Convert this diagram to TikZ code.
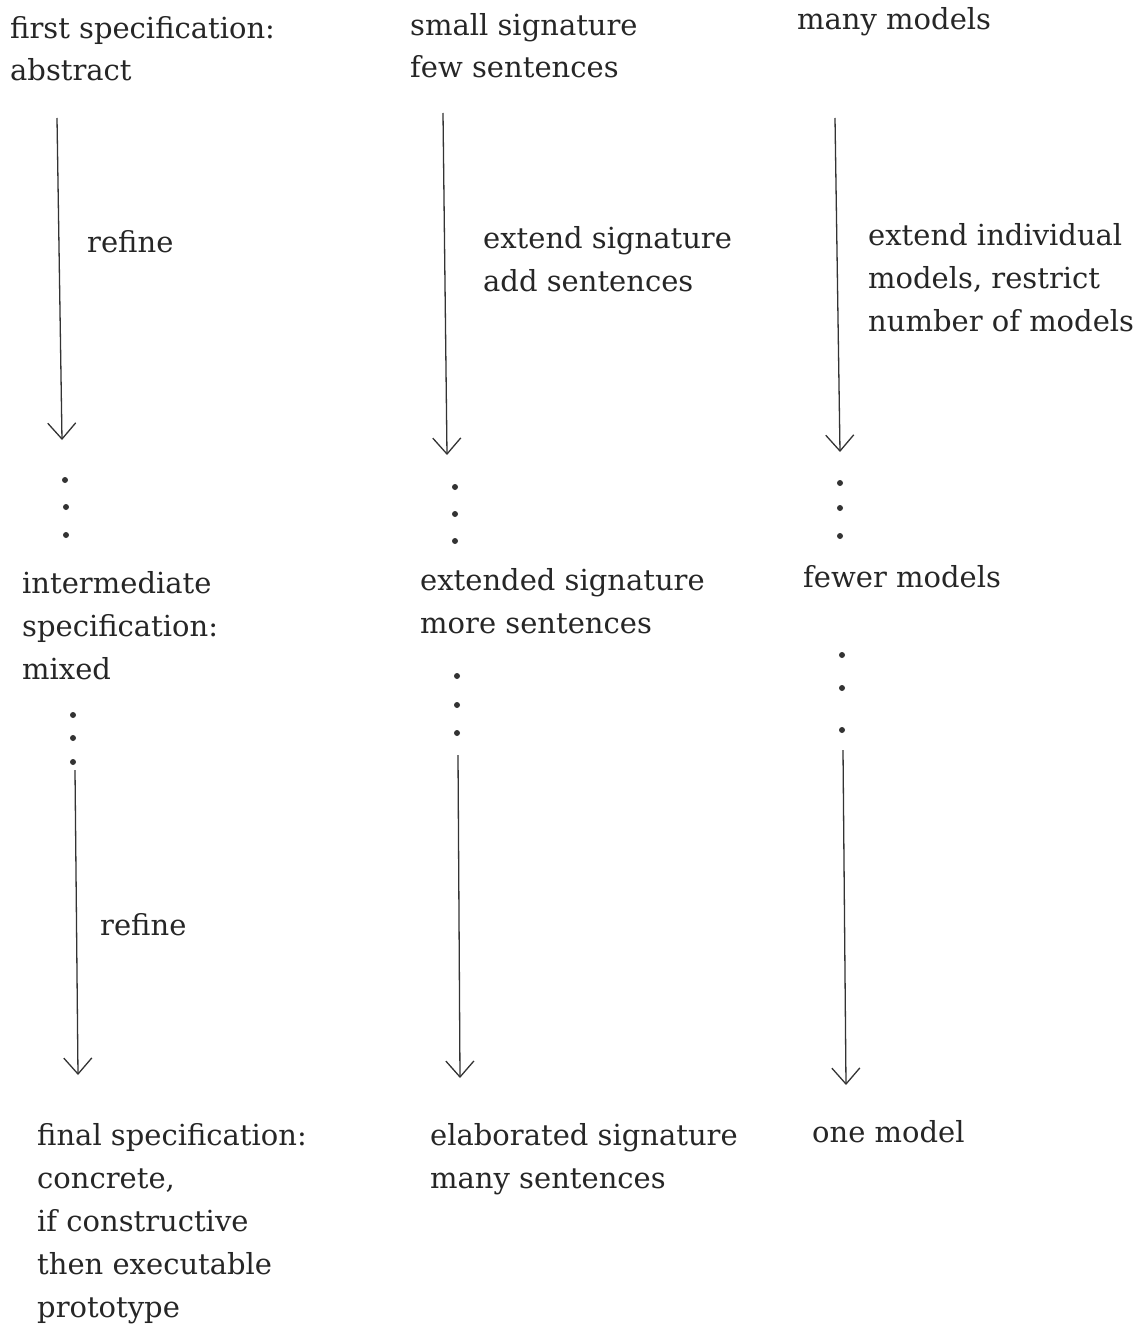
\documentclass[tikz,border=0pt]{standalone}
\usepackage{fontspec}
\setmainfont{DejaVu Serif}
\usetikzlibrary{arrows.meta}
\begin{document}
\begin{tikzpicture}[x=1pt,y=-1pt,
  lbl/.style={anchor=base west,inner sep=0pt,align=left,font=\fontsize{29}{42.8}\selectfont,text=black!85},
  arr/.style={line width=1.3pt,draw=black!80,-{Straight Barb[length=16pt,width=28pt,line width=1.3pt]}},
  dot/.style={circle,fill=black!80,inner sep=0pt,minimum size=6pt}]
\useasboundingbox (0,0) rectangle (1142,1327);
% column 1 (node positions are the baseline of the last line)
\node[lbl] (c1a) at (10,81) {first specification:\\abstract};
\coordinate (a1s) at (57,118); \coordinate (a1e) at (62,440);
\draw[arr] (a1s) -- (a1e);
\node[lbl] (r1) at (87,252) {refine};
\node[dot] (d11) at (65,480) {}; \node[dot] (d12) at (66,507) {}; \node[dot] (d13) at (66,535) {};
\node[lbl] (c1b) at (22,679) {intermediate\\specification:\\mixed};
\node[dot] (d14) at (73,715) {}; \node[dot] (d15) at (73,738) {}; \node[dot] (d16) at (73,762) {};
\coordinate (a2s) at (75,770); \coordinate (a2e) at (78,1075);
\draw[arr] (a2s) -- (a2e);
\node[lbl] (r2) at (100,935) {refine};
\node[lbl] (c1c) at (37,1317) {final specification:\\concrete,\\if constructive\\then executable\\prototype};
% column 2
\node[lbl] (c2a) at (410,78) {small signature\\few sentences};
\coordinate (b1s) at (443,113); \coordinate (b1e) at (447,455);
\draw[arr] (b1s) -- (b1e);
\node[lbl] (e2) at (483,291) {extend signature\\add sentences};
\node[dot] (d21) at (455,487) {}; \node[dot] (d22) at (455,514) {}; \node[dot] (d23) at (455,541) {};
\node[lbl] (c2b) at (420,633) {extended signature\\more sentences};
\node[dot] (d24) at (457,676) {}; \node[dot] (d25) at (457,705) {}; \node[dot] (d26) at (457,733) {};
\coordinate (b2s) at (458,755); \coordinate (b2e) at (460,1078);
\draw[arr] (b2s) -- (b2e);
\node[lbl] (c2c) at (430,1188) {elaborated signature\\many sentences};
% column 3
\node[lbl] (c3a) at (797,30) {many models};
\coordinate (m1s) at (835,118); \coordinate (m1e) at (840,452);
\draw[arr] (m1s) -- (m1e);
\node[lbl] (e3) at (868,331) {extend individual\\models, restrict\\number of models};
\node[dot] (d31) at (840,483) {}; \node[dot] (d32) at (840,508) {}; \node[dot] (d33) at (840,536) {};
\node[lbl] (c3b) at (803,587) {fewer models};
\node[dot] (d34) at (842,655) {}; \node[dot] (d35) at (842,688) {}; \node[dot] (d36) at (842,730) {};
\coordinate (m2s) at (843,750); \coordinate (m2e) at (846,1085);
\draw[arr] (m2s) -- (m2e);
\node[lbl] (c3c) at (812,1142) {one model};
\end{tikzpicture}
\end{document}
